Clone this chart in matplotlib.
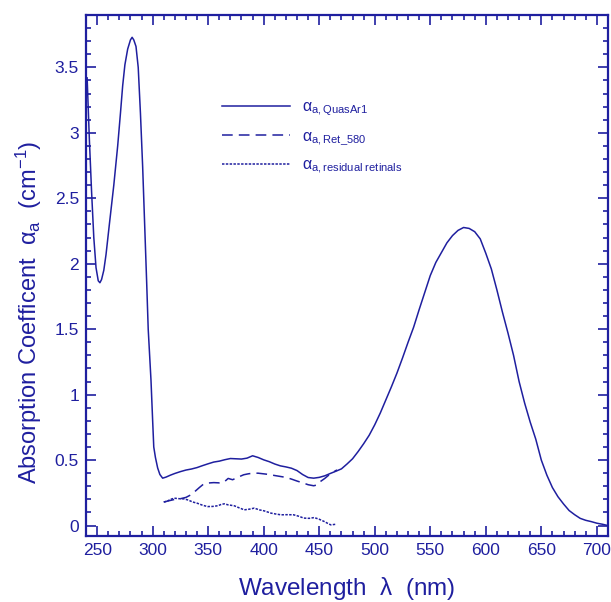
import matplotlib as mpl
mpl.use('Agg')
import matplotlib.pyplot as plt
from matplotlib.ticker import MultipleLocator

blue = '#1f1f9f'

mpl.rcParams['font.family'] = ['Liberation Sans', 'DejaVu Sans']
mpl.rcParams['mathtext.fontset'] = 'custom'
mpl.rcParams['mathtext.rm'] = 'Liberation Sans'
mpl.rcParams['mathtext.it'] = 'Liberation Sans'
mpl.rcParams['mathtext.default'] = 'regular'

# QuasAr1 absorption spectrum
wl_quasar = [241, 243, 245, 247, 249, 251, 252.5, 254, 256, 258, 261, 265, 268.5,
             271, 273, 275, 277.5, 280, 281.5, 283, 285, 287, 289, 291, 293, 294.6,
             296, 298.5, 300, 301, 302.5, 304.5, 306.5, 309, 312, 316, 320, 325, 330,
             335, 340, 345, 350, 355, 360, 365, 370, 375, 380, 385, 390, 395, 400,
             405, 410, 415, 420, 425, 430, 435, 440, 445, 450, 455, 460, 465, 470,
             475, 480, 485, 490, 495, 500, 505, 510, 515, 520, 525, 530, 535, 540,
             545, 550, 555, 560, 565, 570, 575, 580, 585, 590, 595, 600, 605, 610,
             615, 620, 625, 630, 635, 640, 645, 650, 655, 660, 665, 670, 675, 680,
             685, 690, 695, 700, 705, 710]
a_quasar = [3.42, 2.95, 2.55, 2.2, 1.97, 1.87, 1.855, 1.88, 1.95, 2.07, 2.3, 2.6, 2.9,
            3.15, 3.36, 3.52, 3.64, 3.71, 3.73, 3.71, 3.66, 3.5, 3.15, 2.74, 2.25, 1.86,
            1.5, 1.11, 0.8, 0.6, 0.52, 0.44, 0.39, 0.362, 0.37, 0.385, 0.398, 0.412, 0.424,
            0.432, 0.443, 0.458, 0.472, 0.485, 0.492, 0.503, 0.512, 0.51, 0.508, 0.515,
            0.533, 0.52, 0.502, 0.488, 0.47, 0.456, 0.448, 0.438, 0.42, 0.39, 0.367,
            0.362, 0.368, 0.38, 0.398, 0.415, 0.433, 0.47, 0.51, 0.565, 0.625, 0.69,
            0.77, 0.86, 0.96, 1.06, 1.165, 1.28, 1.40, 1.515, 1.65, 1.78, 1.91, 2.01,
            2.085, 2.16, 2.215, 2.255, 2.277, 2.27, 2.245, 2.19, 2.08, 1.96, 1.80, 1.63,
            1.47, 1.30, 1.10, 0.935, 0.79, 0.66, 0.50, 0.385, 0.29, 0.22, 0.165, 0.115,
            0.083, 0.055, 0.04, 0.03, 0.018, 0.01, 0.0]

# Ret_580 component
wl_ret = [310, 315, 320, 325, 330, 334.5, 338, 342, 346, 350, 355, 360, 364, 368, 372,
          377, 382, 386, 390, 395, 400, 405, 410, 415, 420, 425, 430, 436, 440, 445,
          448, 451, 455, 459, 463, 466]
a_ret = [0.18, 0.19, 0.2, 0.205, 0.215, 0.235, 0.26, 0.29, 0.318, 0.325, 0.328, 0.326,
         0.33, 0.36, 0.35, 0.37, 0.388, 0.395, 0.4, 0.4, 0.395, 0.39, 0.382, 0.375,
         0.368, 0.355, 0.34, 0.324, 0.312, 0.304, 0.31, 0.336, 0.36, 0.388, 0.41, 0.425]

# residual retinals
wl_res = [310, 313, 316, 319.5, 324, 328, 332, 336, 340, 345, 349.5, 354, 358.5, 362,
          364.5, 368, 373.5, 378, 382.5, 387, 391.5, 396, 400.5, 406.5, 411, 415.5,
          421, 427, 432, 436, 441, 445.5, 450, 454.5, 458, 460.5, 465]
a_res = [0.18, 0.185, 0.2, 0.209, 0.205, 0.204, 0.195, 0.18, 0.171, 0.155, 0.145, 0.146,
         0.151, 0.162, 0.166, 0.158, 0.151, 0.135, 0.12, 0.125, 0.133, 0.12, 0.112,
         0.095, 0.088, 0.082, 0.083, 0.082, 0.07, 0.057, 0.055, 0.061, 0.048, 0.031,
         0.015, 0.005, 0.01]

fig = plt.figure(figsize=(6.11, 6.02), dpi=100)
ax = fig.add_axes([0.1408, 0.1096, 0.8542, 0.8654])

ax.plot(wl_quasar, a_quasar, color=blue, lw=1.1, label=r'$\alpha_{a,QuasAr1}$')
ax.plot(wl_ret, a_ret, color=blue, lw=1.1, dashes=(7, 4), label=r'$\alpha_{a,Ret\_580}$')
ax.plot(wl_res, a_res, color=blue, lw=1.1, dashes=(1.6, 0.9),
        label=r'$\alpha_{a,residual\ retinals}$')

ax.set_xlim(240, 710)
ax.set_ylim(-0.08, 3.9)
ax.xaxis.set_major_locator(MultipleLocator(50))
ax.xaxis.set_minor_locator(MultipleLocator(10))
ax.yaxis.set_major_locator(MultipleLocator(0.5))
ax.yaxis.set_minor_locator(MultipleLocator(0.1))
ax.set_yticks([0, 0.5, 1, 1.5, 2, 2.5, 3, 3.5])
ax.set_yticklabels(['0', '0.5', '1', '1.5', '2', '2.5', '3', '3.5'])

ax.tick_params(which='both', direction='in', top=True, right=True, color=blue,
               labelcolor=blue, labelsize=12.5, width=1.2)
ax.tick_params(which='major', length=7, pad=5)
ax.tick_params(which='minor', length=3.5)
for s in ax.spines.values():
    s.set_color(blue)
    s.set_linewidth(1.6)

ax.set_xlabel(r'Wavelength  $\lambda$  (nm)', fontsize=17.5, color=blue)
ax.set_ylabel(r'Absorption Coefficent  $\alpha_a$  (cm$^{-1}$)', fontsize=17, color=blue)
ax.xaxis.set_label_coords(0.5, -0.074)
ax.yaxis.set_label_coords(-0.08, 0.43)

leg = ax.legend(loc='upper left', bbox_to_anchor=(0.26, 0.838), frameon=False,
                fontsize=11.5, handlelength=4.25, handletextpad=0.8, labelspacing=0.65,
                borderpad=0, borderaxespad=0)
for t in leg.get_texts():
    t.set_color(blue)

fig.savefig('out.png', dpi=100)
